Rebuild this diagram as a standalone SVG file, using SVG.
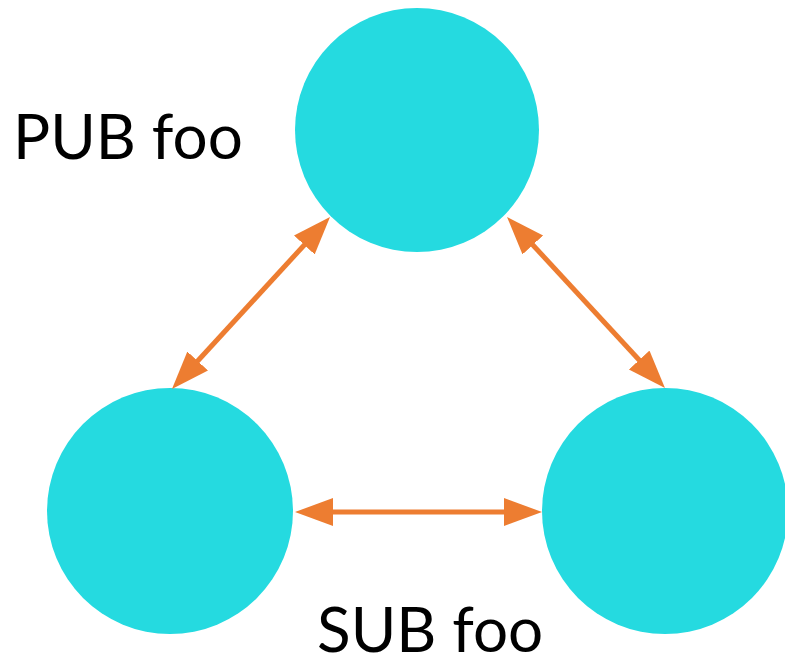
<svg xmlns="http://www.w3.org/2000/svg" width="785" height="659" viewBox="0 0 785 659">
  <style>
    .node { fill: #25DAE0; }
    .conn { stroke: #ED7D31; stroke-width: 5; fill: none; marker-start: url(#ah); marker-end: url(#ah); }
    .lbl { font-family: Lato, "Open Sans", sans-serif; font-size: 62px; fill: #000; }
  </style>
  <defs>
    <marker id="ah" markerUnits="userSpaceOnUse" markerWidth="40" markerHeight="30" refX="18" refY="14" orient="auto-start-reverse" viewBox="0 0 40 30">
      <path d="M0,0 L38,14 L0,28 z" fill="#ED7D31"/>
    </marker>
  </defs>
  <rect width="785" height="659" fill="#fff"/>
  <g id="node-top"><circle class="node" cx="417" cy="130" r="122"/></g>
  <g id="node-left"><circle class="node" cx="170" cy="511" r="123"/></g>
  <g id="node-right"><circle class="node" cx="665" cy="511" r="123"/></g>
  <g id="connectors">
    <path class="conn" d="M316.5,231.7 L185.5,374.3"/>
    <path class="conn" d="M520.6,231.7 L651.4,373.3"/>
    <path class="conn" d="M315,512 L522,512"/>
  </g>
  <g id="labels">
    <text class="lbl" x="13" y="159">PUB foo</text>
    <text class="lbl" x="317" y="652">SUB foo</text>
  </g>
</svg>
